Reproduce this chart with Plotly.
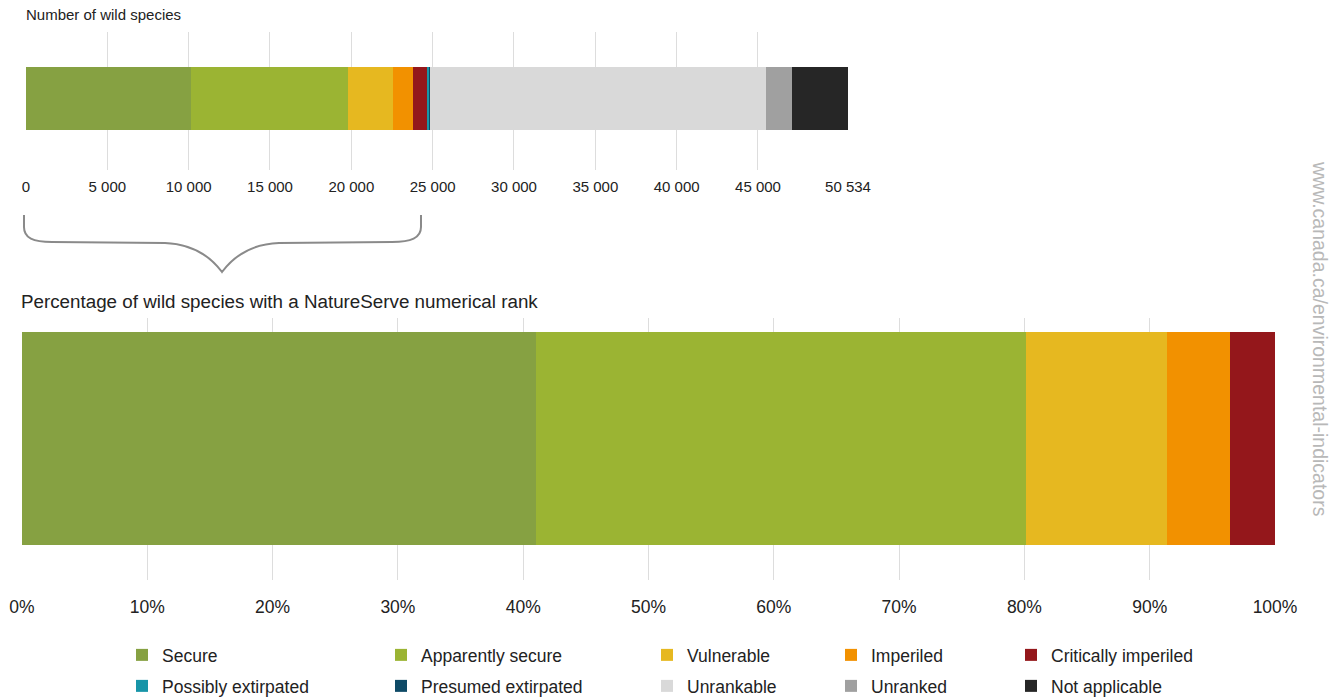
import plotly.graph_objects as go

# Status categories of wild species in Canada
categories = [
    "Secure", "Apparently secure", "Vulnerable", "Imperiled",
    "Critically imperiled", "Possibly extirpated", "Presumed extirpated",
    "Unrankable", "Unranked", "Not applicable",
]
species_counts = [10130, 9660, 2790, 1235, 890, 110, 45, 20640, 1600, 3434]

# Species with a NatureServe numerical rank (percent)
ranked_categories = ["Secure", "Apparently secure", "Vulnerable", "Imperiled",
                     "Critically imperiled"]
ranked_percent = [41.0, 39.1, 11.3, 5.0, 3.6]

colors = {
    "Secure": "#86a142",
    "Apparently secure": "#9bb433",
    "Vulnerable": "#e6b820",
    "Imperiled": "#f29100",
    "Critically imperiled": "#94171b",
    "Possibly extirpated": "#1795a8",
    "Presumed extirpated": "#0e4a66",
    "Unrankable": "#d9d9d9",
    "Unranked": "#a0a0a0",
    "Not applicable": "#262626",
}

count_ticks = [0, 5000, 10000, 15000, 20000, 25000, 30000, 35000, 40000, 45000, 50534]
count_tick_labels = ["0", "5 000", "10 000", "15 000", "20 000", "25 000",
                     "30 000", "35 000", "40 000", "45 000", "50 534"]
percent_ticks = [0, 10, 20, 30, 40, 50, 60, 70, 80, 90, 100]
percent_tick_labels = [f"{v}%" for v in percent_ticks]

W, H = 1339, 698
FONT = "Liberation Sans, Arial, sans-serif"


def px(x):
    return x / W


def py(y):
    return 1 - y / H


# Legend layout: five columns, two rows
legend_cols = [122, 381, 647, 831, 1011]
legend_rows = [655, 686]
legend_slots = {
    "Secure": (0, 0), "Apparently secure": (1, 0), "Vulnerable": (2, 0),
    "Imperiled": (3, 0), "Critically imperiled": (4, 0),
    "Possibly extirpated": (0, 1), "Presumed extirpated": (1, 1),
    "Unrankable": (2, 1), "Unranked": (3, 1), "Not applicable": (4, 1),
}

fig = go.Figure()

legend_layouts = {}
for i, (name, value) in enumerate(zip(categories, species_counts)):
    key = "legend" if i == 0 else f"legend{i + 1}"
    col, row = legend_slots[name]
    legend_layouts[key] = dict(
        x=px(legend_cols[col]), y=py(legend_rows[row]),
        xanchor="left", yanchor="middle",
        bgcolor="rgba(0,0,0,0)", borderwidth=0,
        font=dict(family=FONT, size=17.5, color="#222222"),
    )
    fig.add_trace(go.Bar(
        x=[value], y=[0], orientation="h", name=name,
        marker=dict(color=colors[name], line=dict(width=0)),
        width=0.457, xaxis="x", yaxis="y",
        legend=key, showlegend=True,
        hovertemplate=f"{name}: %{{x:,}}<extra></extra>",
    ))

for name, value in zip(ranked_categories, ranked_percent):
    fig.add_trace(go.Bar(
        x=[value], y=[0], orientation="h", name=name,
        marker=dict(color=colors[name], line=dict(width=0)),
        width=0.813, xaxis="x2", yaxis="y2", showlegend=False,
        hovertemplate=f"{name}: %{{x}}%<extra></extra>",
    ))

# Curly brace linking the ranked portion of the count bar to the percentage bar
brace_pts = [
    ("M", [(24, 215)]),
    ("L", [(24, 227)]),
    ("C", [(24, 238), (33, 242), (52, 242)]),
    ("L", [(165, 243)]),
    ("C", [(193, 244), (210, 256), (222, 272)]),
    ("C", [(234, 256), (251, 244), (279, 243)]),
    ("L", [(392, 242)]),
    ("C", [(411, 242), (421, 238), (421, 227)]),
    ("L", [(421, 215)]),
]
brace_path = " ".join(
    cmd + " " + " ".join(f"{px(x):.5f},{py(y):.5f}" for x, y in pts)
    for cmd, pts in brace_pts
)

fig.update_layout(
    width=W, height=H,
    margin=dict(l=0, r=0, t=0, b=0, autoexpand=False),
    paper_bgcolor="white", plot_bgcolor="white",
    barmode="stack", bargap=0,
    font=dict(family=FONT, color="#222222"),
    xaxis=dict(
        domain=[px(26), px(848)], range=[0, 50534], anchor="y",
        tickvals=count_ticks, ticktext=count_tick_labels,
        showgrid=True, gridcolor="#dddddd", gridwidth=1,
        zeroline=False, showline=False, ticks="",
        tickfont=dict(family=FONT, size=15, color="#222222"),
        ticklabelstandoff=6, fixedrange=True, automargin=False,
    ),
    yaxis=dict(
        domain=[py(170), py(32)], range=[-0.518, 0.482], anchor="x",
        showticklabels=False, showgrid=False, zeroline=False, fixedrange=True,
    ),
    xaxis2=dict(
        domain=[px(22), px(1275)], range=[0, 100], anchor="y2",
        tickvals=percent_ticks, ticktext=percent_tick_labels,
        showgrid=True, gridcolor="#dddddd", gridwidth=1,
        zeroline=False, showline=False, ticks="",
        tickfont=dict(family=FONT, size=17.5, color="#222222"),
        ticklabelstandoff=14, fixedrange=True, automargin=False,
    ),
    yaxis2=dict(
        domain=[py(580), py(318)], range=[-0.54, 0.46], anchor="x2",
        showticklabels=False, showgrid=False, zeroline=False, fixedrange=True,
    ),
    shapes=[dict(
        type="path", xref="paper", yref="paper", path=brace_path,
        line=dict(color="#8a8a8a", width=2), layer="above",
    )],
    annotations=[
        dict(text="Number of wild species", x=px(24), y=py(15),
             xref="paper", yref="paper", xanchor="left", yanchor="middle",
             showarrow=False, font=dict(family=FONT, size=15, color="#222222")),
        dict(text="Percentage of wild species with a NatureServe numerical rank",
             x=px(19), y=py(301), xref="paper", yref="paper",
             xanchor="left", yanchor="middle", showarrow=False,
             font=dict(family=FONT, size=18.8, color="#222222")),
        dict(text="www.canada.ca/environmental-indicators", textangle=90,
             x=px(1320), y=py(339), xref="paper", yref="paper",
             xanchor="center", yanchor="middle", showarrow=False,
             font=dict(family=FONT, size=19.5, color="#b8b8b8")),
    ],
    **legend_layouts,
)

fig.write_html("out.html")
